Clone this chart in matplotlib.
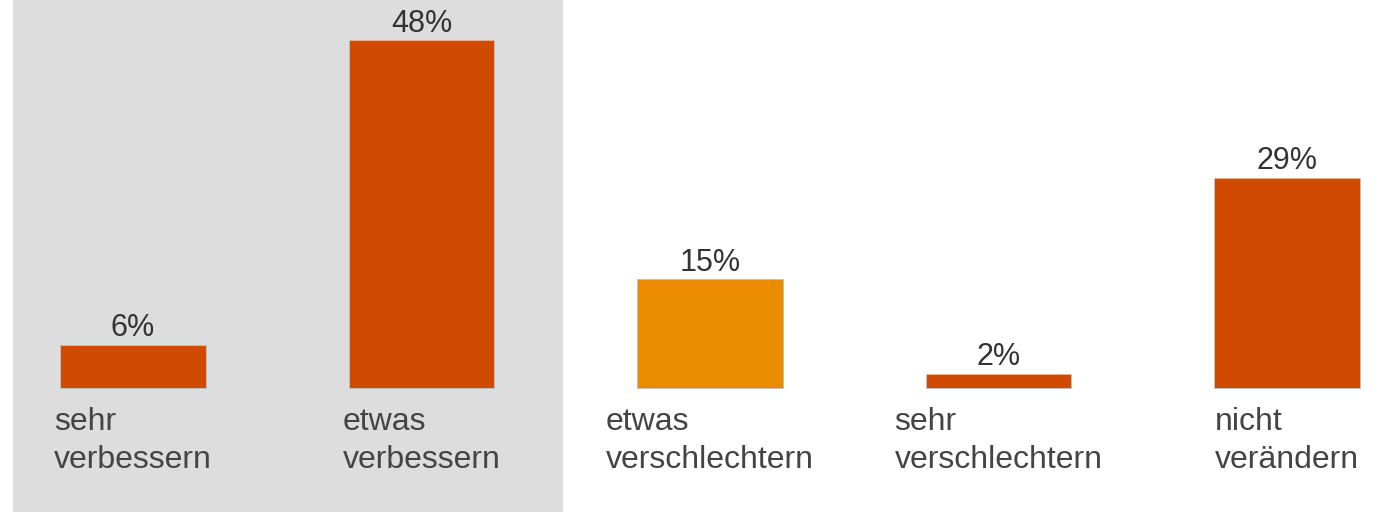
import matplotlib
matplotlib.use('Agg')
import matplotlib.pyplot as plt
import numpy as np

categories = ['sehr\nverbessern', 'etwas\nverbessern', 'etwas\nverschlechtern',
              'sehr\nverschlechtern', 'nicht\nverändern']
values = [6, 48, 15, 2, 29]
bar_colors = ['#D04A02', '#D04A02', '#EB8C00', '#D04A02', '#D04A02']

plt.rcParams['font.family'] = ['Liberation Sans', 'DejaVu Sans']

fig = plt.figure(figsize=(13.84, 5.12), dpi=100)
ax = fig.add_axes([0, 0, 1, 1])

x = np.arange(len(categories))

# grauer Hintergrund hinter den ersten zwei Balken
ax.axvspan(-0.416, 1.487, color='#DDDDDD', zorder=0)

bars = ax.bar(x, values, width=0.503, color=bar_colors,
              edgecolor='#c0c0c0', linewidth=0.7, zorder=2)

for xi, v in zip(x, values):
    ax.annotate(f'{v}%', (xi, v), xytext=(0, 1), textcoords='offset points',
                ha='center', va='bottom', fontsize=22, color='#333333')

for xi, lab in zip(x, categories):
    ax.annotate(lab, (xi, 0), xytext=(0, -14), textcoords='offset points',
                ha='center', va='top', multialignment='left',
                fontsize=23, color='#444444', linespacing=1.34)

ax.set_xlim(-0.461, 4.336)
ax.set_ylim(-17.1, 53.52)
ax.axis('off')

plt.savefig('out.png', dpi=100)
